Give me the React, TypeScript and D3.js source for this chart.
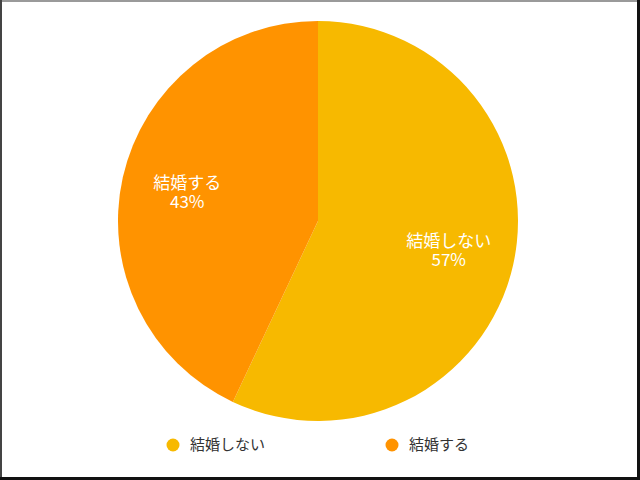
import { useMemo } from 'react'
import * as d3 from 'd3'

const WIDTH = 640
const HEIGHT = 480
const CENTER = { x: 318, y: 221 }
const RADIUS = 200

const categories = ['結婚しない', '結婚する']
const values = [57, 43]
const colors = ['#F7B900', '#FF9300']

const FONT = '"Noto Sans CJK JP", "Noto Sans", sans-serif'

export default function App() {
  const arcs = useMemo(
    () =>
      d3
        .pie<number>()
        .sort(null)
        .value((v) => v)(values),
    [],
  )

  const arc = d3.arc<d3.PieArcDatum<number>>().innerRadius(0).outerRadius(RADIUS)
  const labelArc = d3
    .arc<d3.PieArcDatum<number>>()
    .innerRadius(RADIUS * 0.67)
    .outerRadius(RADIUS * 0.67)

  const legendX = d3.scalePoint<string>().domain(categories).range([173, 392])

  return (
    <svg
      width={WIDTH}
      height={HEIGHT}
      style={{ position: 'absolute', left: 0, top: 0, display: 'block', background: '#fff' }}
    >
      <rect x={0} y={0} width={WIDTH} height={HEIGHT} fill="#fff" />

      <g transform={`translate(${CENTER.x},${CENTER.y})`}>
        {arcs.map((a, i) => (
          <path key={categories[i]} d={arc(a) ?? ''} fill={colors[i]} />
        ))}
        {arcs.map((a, i) => {
          const [x, y] = labelArc.centroid(a)
          return (
            <g key={`l-${categories[i]}`} fill="#fff" fontFamily={FONT} fontSize={17} textAnchor="middle">
              <text x={x} y={y - 9} dy="0.35em">
                {categories[i]}
              </text>
              <text x={x} y={y + 10} dy="0.35em">
                {`${values[i]}%`}
              </text>
            </g>
          )
        })}
      </g>

      {categories.map((c, i) => (
        <g key={`lg-${c}`} transform={`translate(${legendX(c)},445)`}>
          <circle r={6.5} fill={colors[i]} />
          <text x={17} y={0} dy="0.35em" fill="#333" fontFamily={FONT} fontSize={15}>
            {c}
          </text>
        </g>
      ))}

      {/* frame */}
      <rect x={0} y={0} width={WIDTH} height={2} fill="#9a9a9a" />
      <rect x={0} y={0} width={2} height={HEIGHT} fill="#444" />
      <rect x={WIDTH - 3} y={0} width={3} height={HEIGHT} fill="#111" />
      <rect x={0} y={HEIGHT - 3} width={WIDTH} height={3} fill="#111" />
    </svg>
  )
}
